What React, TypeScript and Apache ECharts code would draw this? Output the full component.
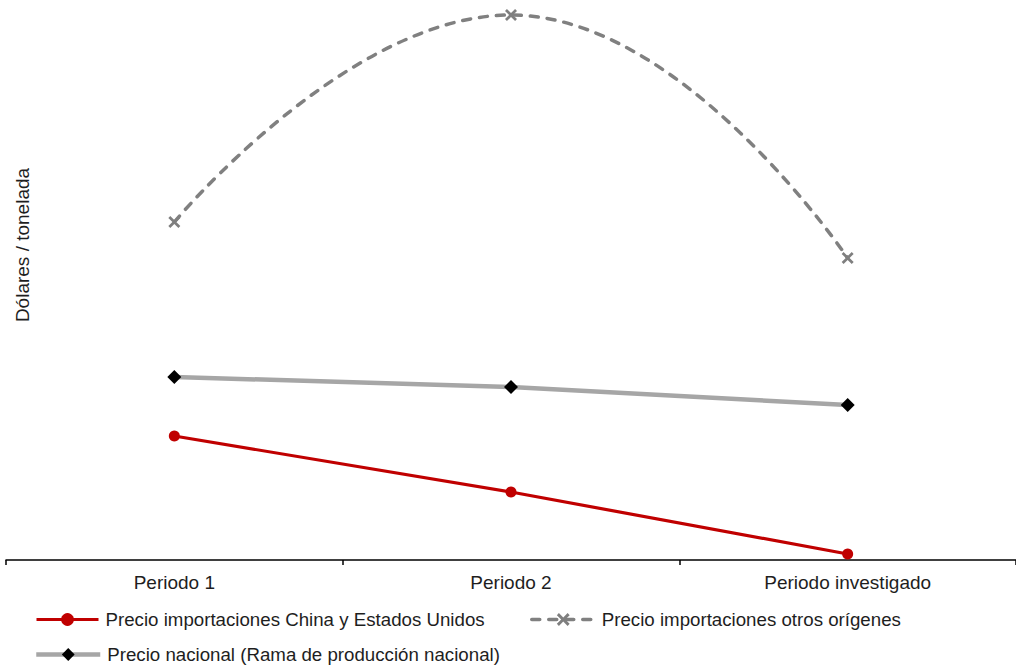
import React, { useEffect, useRef } from "react";
import * as echarts from "echarts";

const categories = ["Periodo 1", "Periodo 2", "Periodo investigado"];
const chinaEU = [124, 68, 6];
const otrosOrigenes = [338, 545, 302];
const nacional = [183, 173, 155];

const nameChina = "Precio importaciones China y Estados Unidos";
const nameOtros = "Precio importaciones otros orígenes";
const nameNacional = "Precio nacional (Rama de producción nacional)";

const FONT = "Liberation Sans, Arial, sans-serif";
const xSymbol =
  "path://M1.6,0 L5,3.4 L8.4,0 L10,1.6 L6.6,5 L10,8.4 L8.4,10 L5,6.6 L1.6,10 L0,8.4 L3.4,5 L0,1.6 Z";

export default function App() {
  const ref = useRef<HTMLDivElement>(null);
  useEffect(() => {
    if (!ref.current) return;
    const chart = echarts.init(ref.current, null, { renderer: "svg" });
    const legendText = { fontSize: 18.7, color: "#1e1e1e", fontFamily: FONT, padding: [0, 0, 0, 2] };
    chart.setOption({
      animation: false,
      backgroundColor: "#fff",
      grid: { left: 6, top: 0, width: 1014, height: 560 },
      xAxis: {
        type: "category",
        data: categories,
        boundaryGap: true,
        axisLine: { lineStyle: { color: "#000", width: 1.5 } },
        axisTick: { show: true, length: 5, lineStyle: { color: "#000", width: 1.5 } },
        axisLabel: { margin: 13, fontSize: 19, color: "#1e1e1e", fontFamily: FONT },
      },
      yAxis: {
        type: "value",
        min: 0,
        max: 560,
        show: false,
        splitLine: { show: false },
      },
      legend: [
        {
          data: [nameChina],
          left: 35,
          top: 610,
          padding: 0,
          itemWidth: 62,
          itemHeight: 16,
          lineStyle: { width: 3 },
          textStyle: legendText,
        },
        {
          data: [nameOtros],
          left: 530,
          top: 610,
          padding: 0,
          itemWidth: 63,
          itemHeight: 16,
          lineStyle: { width: 3.5 },
          textStyle: legendText,
        },
        {
          data: [nameNacional],
          left: 34,
          top: 645,
          padding: 0,
          itemWidth: 64,
          itemHeight: 16,
          lineStyle: { width: 4.5 },
          textStyle: legendText,
        },
      ],
      graphic: [
        {
          type: "text",
          x: 22,
          y: 245,
          rotation: Math.PI / 2,
          style: {
            text: "Dólares / tonelada",
            fontSize: 19,
            fill: "#1e1e1e",
            fontFamily: FONT,
            textAlign: "center",
            textVerticalAlign: "middle",
          },
        },
      ],
      series: [
        {
          name: nameNacional,
          type: "line",
          data: nacional,
          symbol: "diamond",
          symbolSize: 14,
          itemStyle: { color: "#000" },
          lineStyle: { color: "#a6a6a6", width: 4.5 },
          z: 2,
        },
        {
          name: nameOtros,
          type: "line",
          data: otrosOrigenes,
          smooth: 0.5,
          symbol: xSymbol,
          symbolSize: 12,
          itemStyle: { color: "#7f7f7f" },
          lineStyle: { color: "#808080", width: 3.5, type: [8, 9], cap: "round" },
          z: 3,
        },
        {
          name: nameChina,
          type: "line",
          data: chinaEU,
          symbol: "circle",
          symbolSize: 11,
          itemStyle: { color: "#c00000" },
          lineStyle: { color: "#c00000", width: 3.2 },
          z: 4,
        },
      ],
    });
    return () => chart.dispose();
  }, []);
  return (
    <div
      ref={ref}
      style={{ position: "fixed", left: 0, top: 0, width: 1016, height: 666 }}
    />
  );
}
